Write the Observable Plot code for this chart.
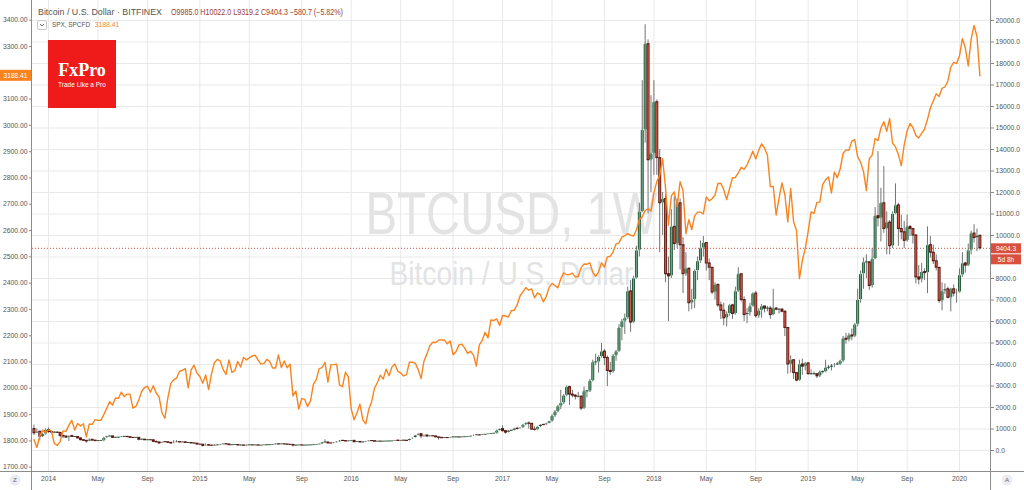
<!DOCTYPE html>
<html>
<head>
<meta charset="utf-8">
<script src="https://cdn.jsdelivr.net/npm/d3@7"></script>
<script src="https://cdn.jsdelivr.net/npm/@observablehq/plot@0.6"></script>
<style>
  html, body { margin: 0; padding: 0; background: #fff; }
  #chart { position: relative; width: 1024px; height: 490px; overflow: hidden; background: #fff; }
  #chart > svg { position: absolute; left: 0; top: 0; }
</style>
</head>
<body>
<div id="chart"></div>
<script>
// ---------------- DATA ----------------
const firstWeek = "2013-12-02";          // Monday of the first weekly bar
const btcFirstOpen = 1000;
// weekly closes (BTCUSD, Bitfinex), one per week
const btcClose = [
  800,870,640,750,950,
  860,830,830,820,680,650,600,670,630,630,560,480,450,420,500,460,435,440,450,580,650,655,590,595,600,635,635,620,590,585,590,500,505,475,480,475,400,375,330,390,385,355,325,365,390,375,380,350,350,330,320,275,
  270,210,250,225,220,235,240,275,295,280,245,245,255,235,235,220,240,242,235,240,225,230,245,245,250,270,290,280,290,280,265,260,230,230,240,230,230,235,240,250,270,290,370,370,330,325,360,390,450,440,420,430,
  450,385,400,375,375,410,440,435,410,415,410,415,420,420,430,460,445,460,455,445,530,580,690,760,660,700,650,665,655,610,590,570,580,575,610,610,610,605,615,620,640,655,700,710,700,730,735,765,780,790,920,1000,
  900,830,920,920,1010,1000,1055,1180,1260,1240,970,960,1090,1190,1180,1250,1350,1600,1800,2050,2200,2550,2950,2600,2550,2500,2500,1950,2750,2750,3230,4100,4100,4350,4600,4300,3700,3650,4400,4600,5700,6000,6150,7400,5950,8000,9300,11100,14900,18900,13500,13800,
  16200,13600,11500,11700,8200,8100,10400,9600,11500,9550,8200,8450,6850,7000,8350,8800,9400,9650,8700,8500,7350,7700,6750,6500,6150,6350,6750,6350,7400,8200,7000,6300,6400,6700,7300,6250,6500,6700,6600,6600,6300,6600,6550,6550,6450,5700,4000,4200,3600,3250,4000,3900,4050,
  3550,3550,3550,3450,3650,3650,3850,3850,3950,4000,4000,4150,5200,5150,5350,5300,5850,7000,8200,8750,8750,7650,8900,10900,10800,11500,10300,10600,9500,11000,11400,10300,10150,9750,10400,10300,10000,8050,7950,8300,8250,9550,9200,8800,8500,6950,7400,7500,7100,7500,7300,7350,
  8150,8700,8600,9300,10090,9880,9985,9404.3
];
const btcHigh = [
  1175,1000,900,800,1000,
  1050,880,880,870,830,720,670,680,710,650,640,590,500,470,540,510,460,460,460,590,660,680,670,615,610,655,640,630,625,600,600,595,530,515,490,485,480,440,390,400,410,390,365,460,460,395,390,385,365,360,340,325,
  300,275,310,275,245,265,250,285,300,300,290,250,260,260,240,240,245,245,245,245,243,232,246,255,252,275,300,295,295,298,285,270,265,235,242,245,235,240,240,252,272,295,380,500,390,335,365,400,465,470,460,440,
  455,460,410,400,380,412,445,445,440,420,420,420,422,425,432,465,470,465,462,458,535,590,700,780,780,720,705,680,680,660,615,600,585,585,615,630,615,612,620,625,645,660,720,740,715,750,745,775,785,795,930,1000,
  1150,910,930,930,1040,1080,1060,1200,1290,1330,1260,1100,1100,1200,1220,1270,1360,1650,1850,2100,2800,2600,3000,2990,2800,2600,2700,2550,2950,2800,3300,4200,4480,4400,4980,4700,4400,4100,4450,4650,5850,6100,6350,7600,7900,8100,9500,11500,17200,19800,19100,16500,
  17200,16300,14000,12000,11900,9000,11200,11800,11700,11700,9900,9200,8500,7500,8400,9000,9750,9950,9650,8900,8500,7800,7750,6900,6850,6450,6800,6800,7600,8500,8200,7150,6600,6850,7300,7400,6600,6800,6700,6700,6700,7500,6650,6600,6600,6500,5700,4400,4200,3600,4200,4250,4100,
  4100,3750,3650,3550,3700,3700,4200,3950,4000,4050,4100,4200,5300,5450,5450,5650,5900,7500,8350,8950,9100,8800,9400,11300,13900,12200,13200,11100,10700,11100,12400,11500,10950,10650,10950,10450,10300,10050,8600,8700,8450,10400,9950,9550,9100,8500,7800,7750,7600,7550,7700,7500,
  8450,9200,8750,9600,10200,10500,10300,10022
];
const btcLow = [
  690,780,450,600,730,
  800,780,800,790,600,550,560,420,600,610,550,450,420,340,410,430,420,420,430,445,560,630,560,580,560,595,610,605,580,575,580,450,480,470,460,460,390,370,280,320,370,345,320,320,360,345,360,340,340,310,310,270,
  265,165,200,210,210,215,230,235,260,275,240,235,240,220,215,215,210,232,230,230,222,220,228,238,240,250,265,270,270,275,255,255,160,195,225,228,225,225,234,236,245,265,280,360,300,315,315,350,385,430,410,415,
  420,360,370,365,365,370,400,415,400,405,405,410,410,415,420,428,440,440,450,435,440,520,575,680,550,610,630,640,650,600,480,565,565,570,570,600,605,595,600,610,615,630,650,690,690,695,725,730,760,770,785,900,
  850,760,820,880,915,950,990,1050,1150,1000,950,900,950,1060,1160,1170,1240,1340,1550,1750,1900,2150,2500,2100,2450,2350,2450,1850,1950,2450,2700,3200,3950,3600,4300,3950,2970,3500,3600,4150,4600,5100,5400,6100,5500,5900,8000,9000,11100,14300,11000,12000,
  12800,12800,9200,10000,7800,6000,8000,9300,9400,8400,7300,8100,6450,6550,6600,7900,8700,9000,8350,7900,7250,7000,6650,6100,5800,5750,6250,6100,6300,7350,6900,6000,5900,6250,6700,6150,6150,6150,6400,6450,6100,6300,6500,6350,6400,5300,3550,3600,3300,3200,3250,3500,3700,
  3500,3500,3500,3350,3400,3550,3650,3750,3700,3850,3950,3950,4100,4950,5050,5100,5250,5750,6850,7500,8000,7450,7550,8900,10400,9700,10100,9100,9100,9400,11000,9500,9800,9400,9700,9950,9600,7750,7700,7800,7900,7300,8950,8650,8350,6850,6500,7250,7050,6450,7150,6850,
  7350,8050,8250,8550,9100,9650,9250,9319.2
];
// weekly closes of SPX (compare series, left scale)
const spxClose = [
  1805,1775,1818,1841,1831,
  1842,1838,1790,1783,1797,1838,1836,1859,1878,1841,1866,1857,1865,1815,1864,1863,1881,1878,1878,1900,1924,1949,1936,1963,1961,1985,1968,1978,1978,1925,1931,1955,1988,2003,2008,1985,2010,1982,1967,1906,1886,1964,2018,2032,2039,2064,2068,2075,2002,2070,2088,2058,
  2045,2019,2051,1995,2055,2097,2110,2104,2071,2053,2108,2061,2067,2102,2081,2117,2108,2116,2123,2126,2107,2092,2094,2110,2102,2077,2077,2127,2079,2104,2078,2092,1971,1989,1921,1961,1958,1931,1951,2015,2033,2075,2079,2099,2023,2089,2090,2092,2012,2006,2061,2044,
  1922,1880,1907,1940,1880,1865,1918,1948,2000,2022,2050,2035,2073,2048,2081,2092,2065,2058,2047,2052,2099,2099,2096,2071,2037,2103,2130,2162,2175,2174,2183,2184,2184,2169,2180,2128,2139,2165,2168,2153,2133,2141,2126,2085,2164,2182,2213,2192,2260,2258,2264,2239,
  2277,2275,2271,2295,2297,2316,2351,2367,2383,2373,2378,2344,2363,2356,2329,2349,2384,2399,2391,2382,2416,2439,2432,2433,2438,2423,2425,2459,2473,2472,2477,2441,2426,2443,2477,2461,2500,2502,2519,2549,2553,2575,2581,2588,2582,2579,2602,2642,2652,2676,2683,2674,
  2743,2786,2810,2873,2762,2620,2732,2747,2691,2786,2752,2588,2641,2604,2656,2670,2670,2663,2728,2713,2721,2735,2779,2780,2755,2718,2760,2801,2802,2819,2840,2833,2850,2875,2902,2872,2905,2930,2914,2886,2767,2768,2659,2723,2781,2736,2633,2760,2633,2600,2417,2486,2532,
  2596,2671,2665,2707,2708,2776,2793,2804,2743,2822,2801,2834,2893,2907,2905,2940,2946,2881,2860,2826,2752,2873,2887,2950,2942,2990,3014,2977,3026,2932,2919,2889,2847,2926,2979,3007,2992,2962,2952,2970,2986,3023,3067,3093,3120,3110,3141,3146,3169,3221,3240,3235,
  3265,3330,3295,3226,3328,3380,3338,3188.41
];
const btcTicks = [0,1000,2000,3000,4000,5000,6000,7000,8000,9000,10000,11000,12000,13000,14000,15000,16000,17000,18000,19000,20000];
const spxTicks = [1700,1800,1900,2000,2100,2200,2300,2400,2500,2600,2700,2800,2900,3000,3100,3200,3300,3400];
// axis labels hidden in the reference under the last-price boxes
const btcTicksHidden = [9000];
const spxTicksHidden = [3200];
const xTickYears = [2014,2015,2016,2017,2018,2019,2020];
const xTickMonths = [0, 4, 8];
const xTickMonthNames = ["", "May", "Sep"];
const titleText = "Bitcoin / U.S. Dollar · BITFINEX";
const ohlcText = "O9985.0 H10022.0 L9319.2 C9404.3 −580.7 (−5.82%)";
const compareName = "SPX, SPCFD";
const compareLast = "3188.41";
const compareLastValue = 3188.41;
const lastPrice = 9404.3;
const lastPriceLabel = "9404.3";
const countdownLabel = "5d 8h";
const watermarkTitle = "BTCUSD, 1W";
const watermarkSub = "Bitcoin / U.S. Dollar";

// ---------------- STYLE ----------------
const FONT = "'Liberation Sans', Arial, sans-serif";
const ORANGE = "#f8841f";
const UP_BODY = "#6ba583", UP_BORDER = "#225437";
const DOWN_BODY = "#d75442", DOWN_BORDER = "#5b1a13";
const WICK = "#737375";
const GRID = "#e9e9ea";
const W = 1024, H = 490;

// ---------------- BUILD ----------------
const start = new Date(firstWeek + "T00:00:00Z");
const weeks = d3.utcMonday.range(start, d3.utcMonday.offset(start, btcClose.length));
const candles = btcClose.map((close, i) => {
  const open = i === 0 ? btcFirstOpen : btcClose[i - 1];
  return {date: weeks[i], open, close, high: btcHigh[i], low: btcLow[i], up: close >= open};
});
const spx = spxClose.map((v, i) => ({date: weeks[i], value: v}));

const WK = 7 * 864e5;
const t0 = Date.UTC(2014, 0, 6);
const xDomain = [new Date(t0 - 5.5 * WK), new Date(t0 + 323.65 * WK)];

const xTicks = [], xTickLabel = new Map();
for (const y of xTickYears) {
  xTickMonths.forEach((m, k) => {
    const d = d3.utcMonday.ceil(new Date(Date.UTC(y, m, 1)));
    if (d <= xDomain[1]) { xTicks.push(d); xTickLabel.set(+d, m === 0 ? String(y) : xTickMonthNames[k]); }
  });
}

const common = {
  width: W, height: H,
  marginLeft: 32, marginRight: 34, marginTop: 0, marginBottom: 19,
  x: {type: "utc", domain: xDomain, axis: null, label: null},
  style: {fontFamily: FONT, fontSize: "6.8px", color: "#555", background: "transparent"}
};

const bigBody = d => Math.abs(d.open - d.close) > 110;

const p1 = Plot.plot({
  ...common,
  y: {domain: [-976.7, 20930.2], axis: null, label: null},
  marks: [
    Plot.gridY(btcTicks, {stroke: GRID, strokeOpacity: 1}),
    Plot.gridX(xTicks, {stroke: GRID, strokeOpacity: 1}),
    Plot.text([watermarkTitle], {text: d => d, frameAnchor: "middle", lineAnchor: "bottom", dy: -2.5, fontSize: 60, fill: "#e3e3e3"}),
    Plot.text([watermarkSub], {text: d => d, frameAnchor: "middle", lineAnchor: "bottom", dy: 49, fontSize: 34, fill: "#e3e3e3"}),
    Plot.ruleY([lastPrice], {stroke: "#d9503f", strokeDasharray: "1,2", strokeWidth: 1}),
    Plot.ruleX(candles, {x: "date", y1: "low", y2: "high", stroke: WICK, strokeWidth: 1}),
    Plot.ruleX(candles.filter(d => d.up), {x: "date", y1: "open", y2: "close", stroke: UP_BORDER, strokeWidth: 3, insetTop: -0.5, insetBottom: -0.5}),
    Plot.ruleX(candles.filter(d => !d.up), {x: "date", y1: "open", y2: "close", stroke: DOWN_BORDER, strokeWidth: 3, insetTop: -0.5, insetBottom: -0.5}),
    Plot.ruleX(candles.filter(d => d.up && bigBody(d)), {x: "date", y1: "open", y2: "close", stroke: UP_BODY, strokeWidth: 1.3, insetTop: 0.8, insetBottom: 0.8}),
    Plot.ruleX(candles.filter(d => !d.up && bigBody(d)), {x: "date", y1: "open", y2: "close", stroke: DOWN_BODY, strokeWidth: 1.3, insetTop: 0.8, insetBottom: 0.8}),
    Plot.axisY(btcTicks.filter(t => !btcTicksHidden.includes(t)), {anchor: "right", tickSize: 3, tickPadding: 2, tickFormat: d => d.toFixed(1), fontSize: 6.8, fill: "#555", stroke: "#8a8a8a", label: null}),
    Plot.axisX(xTicks, {anchor: "bottom", tickSize: 0, tickPadding: 5, tickFormat: d => xTickLabel.get(+d), fontSize: 6.8, fill: "#555", label: null})
  ]
});

const p2 = Plot.plot({
  ...common,
  y: {domain: [1683.6, 3474.9], axis: null, label: null},
  marks: [
    Plot.axisY(spxTicks.filter(t => !spxTicksHidden.includes(t)), {anchor: "left", tickSize: 3, tickPadding: 2, tickFormat: d => d.toFixed(2), fontSize: 6.8, fill: "#555", stroke: "#8a8a8a", label: null}),
    Plot.line(spx, {x: "date", y: "value", stroke: ORANGE, strokeWidth: 1.4})
  ]
});

const chart = document.getElementById("chart");
chart.appendChild(p1);
chart.appendChild(p2);

// stretch watermark text to the reference width
d3.select(p1).selectAll("text").filter(function() { return this.textContent === watermarkTitle; })
  .attr("textLength", 292).attr("lengthAdjust", "spacingAndGlyphs");
d3.select(p1).selectAll("text").filter(function() { return this.textContent === watermarkSub; })
  .attr("textLength", 244).attr("lengthAdjust", "spacingAndGlyphs");

// ---------------- OVERLAY (legend, logo, price labels, pane borders) ----------------
const ySpx = p2.scale("y"), yBtc = p1.scale("y");
const ov = d3.create("svg").attr("width", W).attr("height", H).attr("font-family", FONT);

// pane borders
ov.append("line").attr("x1", 31.5).attr("x2", 31.5).attr("y1", 0).attr("y2", H).attr("stroke", "#8c8c8c");
ov.append("line").attr("x1", 990.5).attr("x2", 990.5).attr("y1", 0).attr("y2", H).attr("stroke", "#8c8c8c");
ov.append("line").attr("x1", 0).attr("x2", W).attr("y1", 471.5).attr("y2", 471.5).attr("stroke", "#8c8c8c");

// legend
ov.append("text").attr("x", 38).attr("y", 15).attr("font-size", 8.8).attr("fill", "#555")
  .attr("textLength", 124).attr("lengthAdjust", "spacingAndGlyphs").text(titleText);
ov.append("text").attr("x", 171).attr("y", 15).attr("font-size", 8.2).attr("fill", "#9a4033")
  .attr("textLength", 172).attr("lengthAdjust", "spacingAndGlyphs").text(ohlcText);
ov.append("rect").attr("x", 37.5).attr("y", 20.5).attr("width", 9).attr("height", 9).attr("rx", 1.5)
  .attr("fill", "#fff").attr("stroke", "#c9c9c9");
ov.append("path").attr("d", "M40,24 L42,26 L44,24").attr("fill", "none").attr("stroke", "#555").attr("stroke-width", 0.9);
ov.append("text").attr("x", 52).attr("y", 27.3).attr("font-size", 6.4).attr("fill", "#555").text(compareName);
ov.append("text").attr("x", 95).attr("y", 27.3).attr("font-size", 6.7).attr("fill", ORANGE).text(compareLast);

// FxPro logo
ov.append("rect").attr("x", 48).attr("y", 40).attr("width", 68).attr("height", 68).attr("fill", "#ef1b1b");
ov.append("text").attr("x", 82).attr("y", 76).attr("text-anchor", "middle").attr("font-family", "'Liberation Serif', serif")
  .attr("font-weight", "bold").attr("font-size", 18).attr("fill", "#fff").text("FxPro");
ov.append("text").attr("x", 82).attr("y", 86.5).attr("text-anchor", "middle").attr("font-size", 6.5).attr("fill", "#fff").text("Trade Like a Pro");

// left price label (SPX)
const ys = ySpx.apply(compareLastValue);
ov.append("rect").attr("x", 0).attr("y", ys - 5.5).attr("width", 31).attr("height", 11).attr("fill", ORANGE);
ov.append("text").attr("x", 15.5).attr("y", ys + 2.4).attr("text-anchor", "middle").attr("font-size", 6.6).attr("fill", "#fff").text(compareLast);

// right price labels (BTC)
const yb = yBtc.apply(lastPrice);
ov.append("rect").attr("x", 991).attr("y", yb - 4.5).attr("width", 30).attr("height", 10).attr("fill", "#d9503f");
ov.append("text").attr("x", 1006).attr("y", yb + 2.8).attr("text-anchor", "middle").attr("font-size", 6.6).attr("fill", "#fff").text(lastPriceLabel);
ov.append("rect").attr("x", 991).attr("y", yb + 6.5).attr("width", 30).attr("height", 10).attr("fill", "#d9503f");
ov.append("text").attr("x", 1006).attr("y", yb + 13.8).attr("text-anchor", "middle").attr("font-size", 6.6).attr("fill", "#fff").text(countdownLabel);

// corner buttons
ov.append("circle").attr("cx", 15).attr("cy", 480).attr("r", 5.5).attr("fill", "#ebebf0");
ov.append("text").attr("x", 15).attr("y", 482.3).attr("text-anchor", "middle").attr("font-size", 6.2).attr("fill", "#666").text("Z");
ov.append("circle").attr("cx", 1007).attr("cy", 480).attr("r", 5.5).attr("fill", "#ebebf0");
ov.append("text").attr("x", 1007).attr("y", 482.3).attr("text-anchor", "middle").attr("font-size", 6.2).attr("fill", "#666").text("A");

chart.appendChild(ov.node());
</script>
</body>
</html>
